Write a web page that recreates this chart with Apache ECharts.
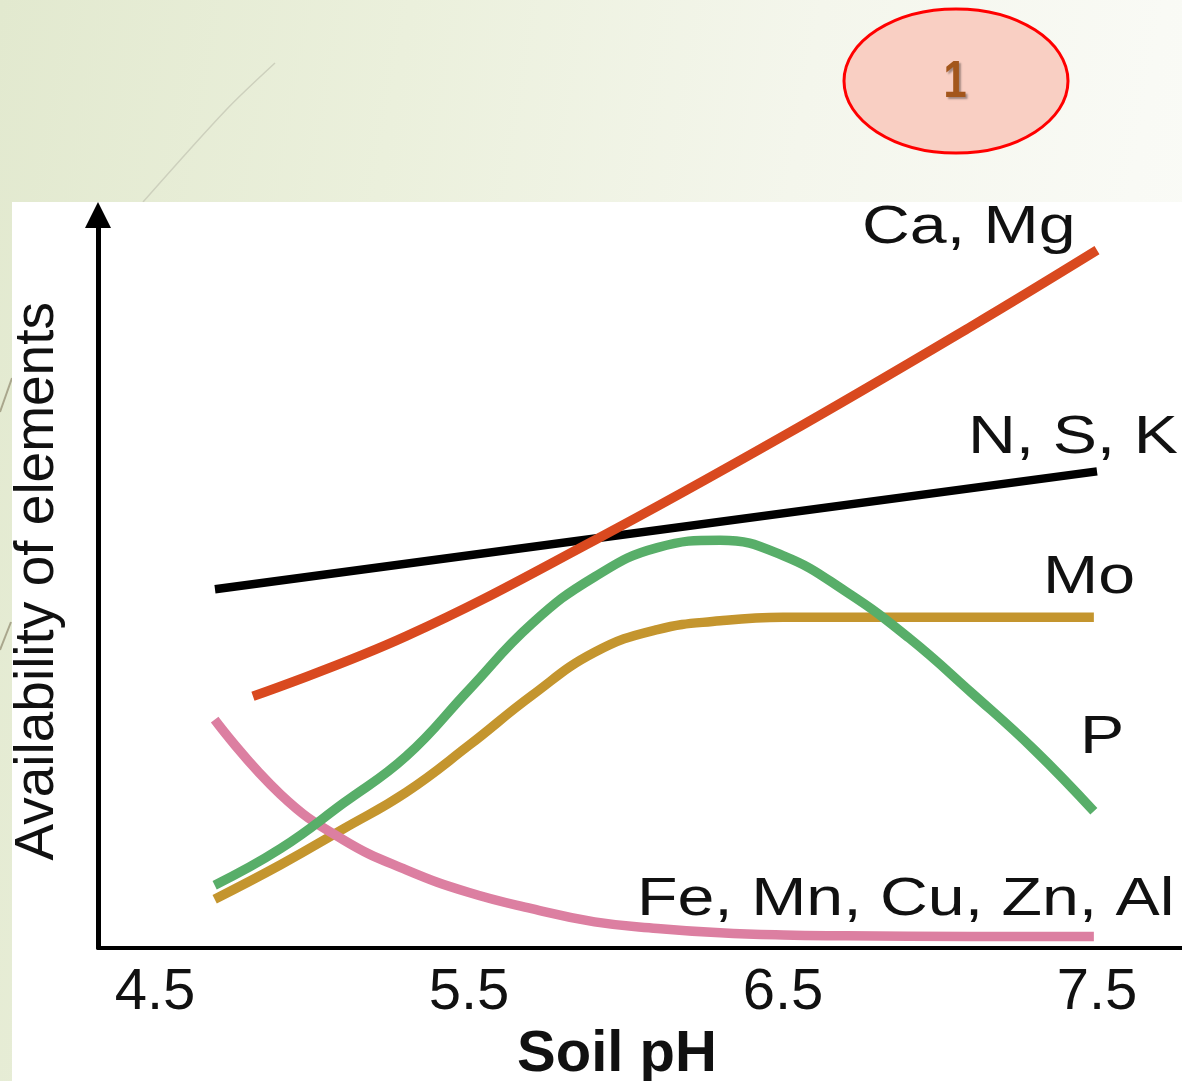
<!DOCTYPE html>
<html>
<head>
<meta charset="utf-8">
<script src="https://cdn.jsdelivr.net/npm/echarts@6/dist/echarts.min.js"></script>
<style>
  html, body { margin: 0; padding: 0; width: 1182px; height: 1081px; overflow: hidden; }
  body { background: linear-gradient(100deg, #e2e9cf 0%, #ebf0dc 30%, #f4f6ec 60%, #f9faf5 85%, #fbfcf8 100%); }
  #chart { width: 1182px; height: 1081px; }
</style>
</head>
<body>
<div id="chart"></div>
<script>
// ---- data ----
const phTicks = [4.5, 5.5, 6.5, 7.5];

const caMgPH  = [4.812, 5.3, 5.9, 6.5, 7.1, 7.5];
const caMgVal = [34.3, 42.5, 55.6, 69.8, 84.8, 95.2];

const nskPH  = [4.691, 7.500];
const nskVal = [48.9, 65.0];

const pPH  = [4.69, 4.9, 5.1, 5.3, 5.5, 5.7, 5.9, 6.1, 6.3, 6.5, 6.7, 6.9, 7.1, 7.3, 7.49];
const pVal = [8.5, 13.5, 19.7, 26.1, 35.2, 44.2, 50.6, 54.6, 55.6, 53.5, 48.6, 42.3, 34.8, 27.0, 18.6];

const moPH  = [4.69, 4.9, 5.1, 5.3, 5.5, 5.7, 5.9, 6.1, 6.3, 6.5, 6.8, 7.1, 7.49];
const moVal = [6.6, 11.3, 16.2, 21.2, 27.6, 34.4, 40.3, 43.4, 44.6, 45.1, 45.1, 45.1, 45.1];

const fePH  = [4.69, 4.9, 5.1, 5.3, 5.5, 5.7, 5.9, 6.1, 6.3, 6.5, 6.7, 7.1, 7.49];
const feVal = [31.1, 20.9, 14.7, 10.6, 7.5, 5.3, 3.5, 2.6, 2.0, 1.7, 1.6, 1.5, 1.5];

const seriesNames = ['N, S, K', 'Mo', 'Fe, Mn, Cu, Zn, Al', 'P', 'Ca, Mg'];

function pairs(xs, ys) { return xs.map((x, i) => [x, ys[i]]); }

const FONT = '"Liberation Sans", Arial, Helvetica, sans-serif';
const chart = echarts.init(document.getElementById('chart'), null, { renderer: 'canvas' });

function lab(text, x, y) {
  return {
    type: 'text', x: x, y: y, scaleX: 1.25, z: 50,
    style: { text: text, font: '53px ' + FONT, fill: '#111', align: 'left', verticalAlign: 'middle' }
  };
}

const LW = 9.5;
const option = {
  animation: false,
  backgroundColor: 'transparent',
  grid: { left: 98, right: 0, top: 215, bottom: 133.5, containLabel: false, outerBoundsMode: 'none' },
  xAxis: {
    type: 'value', min: 4.3185, max: 7.7707,
    axisLine: { show: true, onZero: false, lineStyle: { color: '#000', width: 4 } },
    axisTick: { show: false },
    splitLine: { show: false },
    axisLabel: {
      customValues: phTicks, margin: 16, fontSize: 58, color: '#111', fontFamily: FONT,
      formatter: v => v.toFixed(1)
    },
    name: 'Soil pH', nameLocation: 'middle', nameGap: 75,
    nameTextStyle: { fontSize: 58, fontWeight: 'bold', color: '#111', fontFamily: FONT, padding: [0, 46, 0, 0] }
  },
  yAxis: {
    type: 'value', min: 0, max: 100,
    axisLine: { show: true, symbol: ['none', 'triangle'], symbolSize: [26, 26], lineStyle: { color: '#000', width: 5 } },
    axisTick: { show: false },
    axisLabel: { show: false },
    splitLine: { show: false },
    name: 'Availability of elements', nameLocation: 'middle', nameGap: 33,
    nameTextStyle: { fontSize: 55, color: '#111', fontFamily: FONT }
  },
  series: [
    { name: seriesNames[0], type: 'line', data: pairs(nskPH, nskVal), showSymbol: false, smooth: false, z: 2,
      lineStyle: { color: '#000000', width: LW - 1 } },
    { name: seriesNames[1], type: 'line', data: pairs(moPH, moVal), showSymbol: false, smooth: 0.45, z: 3,
      lineStyle: { color: '#c4952e', width: LW } },
    { name: seriesNames[2], type: 'line', data: pairs(fePH, feVal), showSymbol: false, smooth: 0.45, z: 4,
      lineStyle: { color: '#dc7fa1', width: LW } },
    { name: seriesNames[3], type: 'line', data: pairs(pPH, pVal), showSymbol: false, smooth: 0.45, z: 5,
      lineStyle: { color: '#58ae69', width: LW } },
    { name: seriesNames[4], type: 'line', data: pairs(caMgPH, caMgVal), showSymbol: false, smooth: 0.4, z: 6,
      lineStyle: { color: '#d9491f', width: LW } }
  ],
  graphic: [
    { type: 'polyline', z: -20, shape: { points: [[275, 63], [226, 110], [143, 202]], smooth: 0.3 },
      style: { stroke: '#cdd0bd', lineWidth: 1.5, fill: null } },
    { type: 'line', z: -20, shape: { x1: 12, y1: 378, x2: 0, y2: 412 }, style: { stroke: '#a9a68c', lineWidth: 2 } },
    { type: 'line', z: -20, shape: { x1: 11, y1: 622, x2: 0, y2: 650 }, style: { stroke: '#a9a68c', lineWidth: 2 } },
    { type: 'rect', z: -10, shape: { x: 12, y: 202, width: 1170, height: 879 }, style: { fill: '#ffffff' } },
    { type: 'ellipse', z: 10, shape: { cx: 956, cy: 81, rx: 112, ry: 72 },
      style: { fill: '#f9cfc3', stroke: '#ff0000', lineWidth: 3 } },
    { type: 'text', z: 11, x: 955, y: 83, scaleX: 0.8,
      style: { text: '1', font: 'bold 52px ' + FONT, fill: '#a3561b',
               align: 'center', verticalAlign: 'middle',
               textShadowColor: 'rgba(0,0,0,0.35)', textShadowOffsetX: 2, textShadowOffsetY: 2, textShadowBlur: 2 } },
    lab('Ca, Mg', 862, 228),
    lab('N, S, K', 968, 438),
    lab('Mo', 1043, 578),
    lab('P', 1080, 738),
    lab('Fe, Mn, Cu, Zn, Al', 637, 900)
  ]
};
chart.setOption(option);
</script>
</body>
</html>
